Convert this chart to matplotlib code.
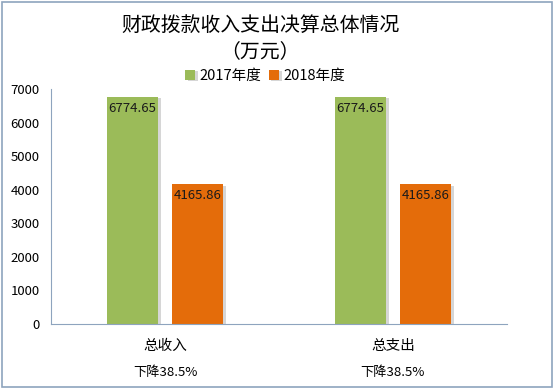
import matplotlib
matplotlib.use('Agg')
import matplotlib.pyplot as plt
import matplotlib.patheffects as pe
import numpy as np

plt.rcParams['font.family'] = ['Noto Sans CJK SC', 'DejaVu Sans']

categories = ['总收入', '总支出']
notes = ['下降38.5%', '下降38.5%']
series_names = ['2017年度', '2018年度']
values_2017 = [6774.65, 6774.65]
values_2018 = [4165.86, 4165.86]
colors = ['#9BBB59', '#E46C0A']

fig = plt.figure(figsize=(5.54, 3.89), dpi=100)
ax = fig.add_axes([0.092, 0.167, 0.823, 0.604])

x = np.arange(len(categories))
w = 0.225
shadow = [pe.SimplePatchShadow(offset=(2, -1), shadow_rgbFace='#999999', alpha=0.4), pe.Normal()]
for vals, off, col, name in [(values_2017, -0.143, colors[0], series_names[0]),
                             (values_2018, 0.143, colors[1], series_names[1])]:
    bars = ax.bar(x + off, vals, w, color=col, label=name, path_effects=shadow)
    for b, v in zip(bars, vals):
        ax.text(b.get_x() + b.get_width() / 2, v - 150, f'{v:.2f}', ha='center', va='top',
                fontsize=9.5, color='#1a1a1a')

ax.set_xlim(-0.5, 1.5)
ax.set_ylim(0, 7000)
ax.set_yticks(range(0, 7001, 1000))
ax.tick_params(axis='y', length=0, labelsize=9.5, pad=8)
ax.tick_params(axis='x', length=0)
ax.set_xticks([])
for xi, c, n in zip(x, categories, notes):
    ax.text(xi, -0.095, c, transform=ax.get_xaxis_transform(), ha='center', va='center', fontsize=10.5)
    ax.text(xi, -0.205, n, transform=ax.get_xaxis_transform(), ha='center', va='center', fontsize=9.5)

for s in ['top', 'right']:
    ax.spines[s].set_visible(False)
ax.spines['left'].set_color('#8EA4BE')
ax.spines['bottom'].set_color('#8EA4BE')

fig.text(0.47, 0.935, '财政拨款收入支出决算总体情况', ha='center', va='center', fontsize=14.3)
fig.text(0.47, 0.868, '（万元）', ha='center', va='center', fontsize=14.3)
fig.legend(loc='center', bbox_to_anchor=(0.478, 0.805), ncol=2, frameon=False, fontsize=10.5,
           handlelength=0.7, handleheight=0.7, handletextpad=0.3, columnspacing=0.5)

fig.patches.append(plt.Rectangle((0.003, 0.004), 0.994, 0.992, transform=fig.transFigure,
                                 fill=False, edgecolor='#8EA4BE', linewidth=1.2))
fig.savefig('out.png', dpi=100)
